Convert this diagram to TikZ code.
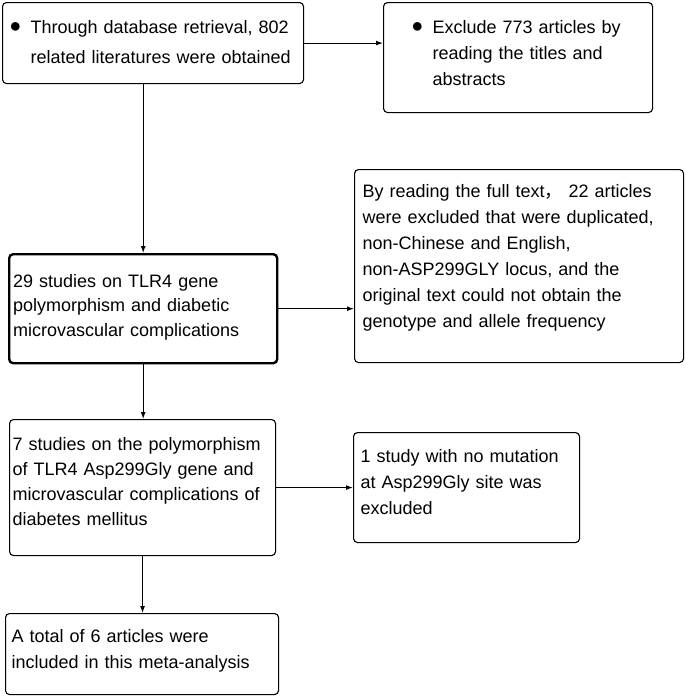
\documentclass[tikz,border=0pt]{standalone}
\usepackage{fontspec}
\setmainfont{Liberation Sans}
\newfontfamily\cjkfont{Noto Sans CJK SC}
\usetikzlibrary{arrows.meta}

% hanging round bullet in front of the first line
\newcommand{\dotmark}{\llap{\raisebox{1.5pt}{\fontsize{20}{20}\selectfont ●}\hspace{9pt}}}
% room above the first baseline / below the last baseline
\newcommand{\topgap}[1]{\rule{0pt}{#1}}
\newcommand{\botgap}[1]{\rule[-#1]{0pt}{#1}\par}

\begin{document}
\begin{tikzpicture}[
    x=1pt, y=-1pt,
    >={Latex[length=7pt,width=5pt]},
    stage/.style={
        draw=black,
        line width=1.1pt,
        rounded corners=4pt,
        fill=white,
        anchor=north west,
        inner sep=0pt,
        font=\fontsize{18}{26}\selectfont
    },
    link/.style={->, line width=1.1pt}
]
    \useasboundingbox (0,0) rectangle (685,697);

    % 1. Retrieval (top left)
    \node (search) [stage, text width=301pt] at (2,2) {
        \raggedright\leftskip=28pt
        \topgap{31pt}\dotmark Through database retrieval, 802\\[4pt]
        related literatures were obtained\botgap{20pt}
    };

    % 2. Title/abstract exclusion (top right)
    \node (titles) [stage, text width=269pt] at (383,2) {
        \raggedright\leftskip=49pt
        \topgap{31pt}\dotmark Exclude 773 articles by\\
        reading the titles and\\
        abstracts\botgap{27pt}
    };

    % 3. Gene studies (middle left)
    \node (gene) [stage, line width=2.4pt, text width=268pt] at (8,253) {
        \raggedright\leftskip=4pt
        \topgap{33pt}29 studies on TLR4 gene\\[-1.5pt]
        polymorphism and diabetic\\[-1.5pt]
        microvascular complications\botgap{27pt}
    };

    % 4. Full-text exclusion (middle right)
    \node (fulltext) [stage, text width=329pt] at (354,169) {
        \raggedright\leftskip=8pt
        \topgap{28pt}By reading the full text{\cjkfont ，} 22 articles\\
        were excluded that were duplicated,\\
        non-Chinese and English,\\
        non-ASP299GLY locus, and the\\
        original text could not obtain the\\
        genotype and allele frequency\botgap{35pt}
    };

    % 5. Asp299Gly studies (lower left)
    \node (asp) [stage, text width=266pt] at (9,419) {
        \raggedright\leftskip=3pt
        \topgap{31pt}7 studies on the polymorphism\\[-1pt]
        of TLR4 Asp299Gly gene and\\[-1pt]
        microvascular complications of\\[-1pt]
        diabetes mellitus\botgap{30pt}
    };

    % 6. No mutation (lower right)
    \node (nomut) [stage, text width=226pt] at (353,432) {
        \raggedright\leftskip=7pt
        \topgap{30pt}1 study with no mutation\\
        at Asp299Gly site was\\
        excluded\botgap{28pt}
    };

    % 7. Meta-analysis (bottom)
    \node (total) [stage, text width=273pt] at (5,613) {
        \raggedright\leftskip=6pt
        \topgap{29pt}A total of 6 articles were\\
        included in this meta-analysis\botgap{26pt}
    };

    % Flow
    \draw[link] (search.east) -- (search.east -| titles.west);
    \draw[link] (gene.north |- search.south) -- (gene.north);
    \draw[link] (gene.east) -- (gene.east -| fulltext.west);
    \draw[link] (gene.south) -- (gene.south |- asp.north);
    \draw[link] (asp.east) -- (asp.east -| nomut.west);
    \draw[link] (asp.south) -- (asp.south |- total.north);

\end{tikzpicture}
\end{document}
